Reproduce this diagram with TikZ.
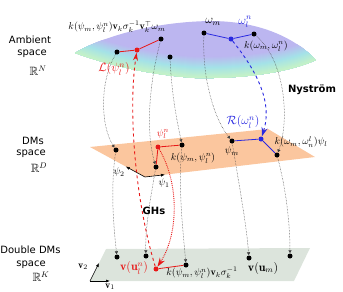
\documentclass[tikz,border=0pt]{standalone}
\usepackage{amsmath,amssymb}
\usepackage{fontspec}
\newfontfamily\sidefont{DejaVu Sans}
\usetikzlibrary{arrows.meta}
\definecolor{myred}{RGB}{232,24,24}
\definecolor{myblue}{RGB}{40,40,225}
\definecolor{peach}{RGB}{251,198,158}
\definecolor{ggray}{RGB}{220,228,220}
\definecolor{lav}{RGB}{188,182,240}
\definecolor{cyanish}{RGB}{164,226,232}
\definecolor{mint}{RGB}{200,244,196}
\begin{document}
\begin{tikzpicture}[x=1pt,y=-1pt,
  dot/.style={circle,fill=black,inner sep=0pt,minimum size=5pt},
  rdot/.style={dot,fill=myred},
  bdot/.style={dot,fill=myblue},
  proj/.style={densely dotted,black!75,line width=0.5pt,-{Latex[length=3pt,width=3.5pt]}},
  redl/.style={myred,line width=0.8pt},
  bluel/.style={myblue,line width=0.8pt},
  axisarr/.style={line width=0.6pt,-{Latex[length=4pt,width=3pt]}},
  side/.style={font=\sidefont\fontsize{10}{12}\selectfont,inner sep=0pt},
  bsans/.style={font=\sidefont\bfseries\fontsize{10}{12}\selectfont,inner sep=0pt},
  lab/.style={inner sep=0pt}
]
\useasboundingbox (0,0) rectangle (343,292);
% ambient surface
\begin{scope}
\clip (75,53) .. controls (100,38) and (150,22) .. (210,21) .. controls (260,21) and (295,38) .. (316,60)
  .. controls (290,72) and (245,79) .. (195,78) .. controls (140,74) and (100,62) .. (75,53) -- cycle;
\fill[lav] (60,10) rectangle (330,95);
\foreach \d in {22,21,...,1}{
  \pgfmathtruncatemacro\pa{max(0,min(100,(22-\d)*100/11))}
  \pgfmathtruncatemacro\pb{max(0,min(100,(11-\d)*100/11))}
  \colorlet{cA}{cyanish!\pa!lav}
  \colorlet{cB}{mint!\pb!cA}
  \draw[cB,line width=2*\d] (75,53) .. controls (100,62) and (140,74) .. (195,78) .. controls (245,79) and (290,72) .. (316,60);
}
\end{scope}
% DMs plane
\fill[peach] (90,147) -- (268,129) -- (315,157) -- (145,177) -- cycle;
% double DMs plane
\fill[ggray] (106,249) -- (310,248) -- (294,281) -- (90,281) -- cycle;

% side labels
\node[side] (amb1) at (30,40) {Ambient};
\node[side] (amb2) at (32,54) {space};
\node[lab,font=\large] (amb3) at (38,71) {$\mathbb{R}^N$};
\node[side] (dms1) at (33,141) {DMs};
\node[side] (dms2) at (31,154) {space};
\node[lab,font=\large] (dms3) at (39,168) {$\mathbb{R}^D$};
\node[side] (dd1) at (30.5,250) {Double DMs};
\node[side] (dd2) at (31,265) {space};
\node[lab,font=\large] (dd3) at (41,277) {$\mathbb{R}^K$};

% axes
\coordinate (P0) at (145,177);
\coordinate (P1) at (165,174.7);
\coordinate (P2) at (125.7,166.5);
\draw[axisarr] (P0) -- (P1);
\draw[axisarr] (P0) -- (P2);
\coordinate (Q0) at (90,281);
\coordinate (Q1) at (110,281);
\coordinate (Q2) at (99,263);
\draw[axisarr] (Q0) -- (Q1);
\draw[axisarr] (Q0) -- (Q2);

% dots ambient
\node[dot] (A1) at (117,52) {};
\node[rdot] (AL) at (137,50) {};
\node[dot] (A2) at (161,39) {};
\node[dot] (A3) at (170,57) {};
\node[dot] (W1) at (204,33) {};
\node[bdot] (WB) at (231,39) {};
\node[dot] (W2) at (254,34) {};
% dots DMs
\node[dot] (D1) at (116,150) {};
\node[rdot] (DR) at (158,147) {};
\node[dot] (D2) at (156,167) {};
\node[dot] (D3) at (182,145) {};
\node[dot] (PM) at (232,141) {};
\node[bdot] (DB) at (261,139) {};
\node[dot] (D5) at (277,155) {};
% dots double
\node[dot] (E1) at (117,257) {};
\node[dot] (E2) at (146,256) {};
\node[rdot] (ER) at (156,269) {};
\node[dot] (E3) at (186,265) {};
\node[dot] (EM) at (249,258) {};
\node[dot] (E5) at (290,256) {};

% solid lines
\draw[redl] (A1) -- (AL) -- (A2);
\draw[bluel] (W1) -- (WB) -- (W2);
\draw[redl] (D2) -- (DR) -- (D3);
\draw[bluel] (PM) -- (DB) -- (D5);
\draw[redl] (ER) -- (E3);

% projections ambient -> DMs
\draw[proj] (A1) .. controls (100,80) and (100,125) .. (D1);
\draw[proj] (A2) .. controls (150,80) and (145,130) .. (D2);
\draw[proj] (A3) .. controls (172,100) and (178,125) .. (D3);
\draw[proj] (W1) .. controls (202,80) and (215,120) .. (PM);
\draw[proj] (W2) .. controls (285,60) and (290,120) .. (D5);
% projections DMs -> double
\draw[proj] (D1) .. controls (110,190) and (114,230) .. (E1);
\draw[proj] (D2) .. controls (150,200) and (145,230) .. (E2);
\draw[proj] (D3) .. controls (178,190) and (183,230) .. (E3);
\draw[proj] (PM) .. controls (238,180) and (246,220) .. (EM);
\draw[proj] (D5) .. controls (285,185) and (290,220) .. (E5);

% GHs and Nystrom arrows
\draw[myred,dashed,line width=0.9pt,-{Stealth[length=8pt,width=5pt]}] (ER) .. controls (135,200) and (128,110) .. (AL);
\draw[myred,densely dotted,line width=0.9pt,-{Stealth[length=9pt,width=6pt]}] (DR) .. controls (180,185) and (178,235) .. (ER);
\draw[myblue,dashed,line width=0.9pt,-{Stealth[length=9pt,width=6pt]}] (WB) .. controls (260,75) and (272,105) .. (DB);

% math labels
\node[lab] (klab) at (117,27) {$k(\psi_m,\psi^n_l)\mathbf{v}_k\sigma_k^{-1}\mathbf{v}_k^{\top}\omega_m$};
\node[lab,text=myred,font=\large] (Llab) at (114,69) {$\mathcal{L}(\psi^n_l)$};
\node[lab,font=\large] (wmlab) at (213,22) {$\omega_m$};
\node[lab,text=myblue,font=\large] (wlnlab) at (245,22) {$\omega^n_l$};
\node[lab] (kwlab) at (266,46) {$k(\omega_m,\omega^n_l)$};
\node[bsans] (nys) at (312,90) {Nyström};
\node[lab,text=myred] (psilnlab) at (163,134) {$\psi^n_l$};
\node[lab] (kpsilab) at (193,158) {$k(\psi_m,\psi^n_l)$};
\node[lab] (psimlab) at (232,151) {$\psi_m$};
\node[lab,text=myblue,font=\large] (Rlab) at (243,122) {$\mathcal{R}(\omega^n_l)$};
\node[lab] (kwpsilab) at (301,142) {$k(\omega_m,\omega^l_n)\psi_l$};
\node[lab] (psi2lab) at (119,172) {$\psi_2$};
\node[lab] (psi1lab) at (164,183) {$\psi_1$};
\node[bsans] (ghs) at (154,211) {GHs};
\node[lab] (v2lab) at (83,267) {$\mathbf{v}_2$};
\node[lab] (v1lab) at (110,287) {$\mathbf{v}_1$};
\node[lab,text=myred,font=\large] (vulab) at (134,268) {$\mathbf{v}(\mathbf{u}^n_l)$};
\node[lab] (kvlab) at (202,273) {$k(\psi_m,\psi^n_l)\mathbf{v}_k\sigma_k^{-1}$};
\node[lab,font=\large] (vumlab) at (263,268) {$\mathbf{v}(\mathbf{u}_m)$};
\end{tikzpicture}
\end{document}
